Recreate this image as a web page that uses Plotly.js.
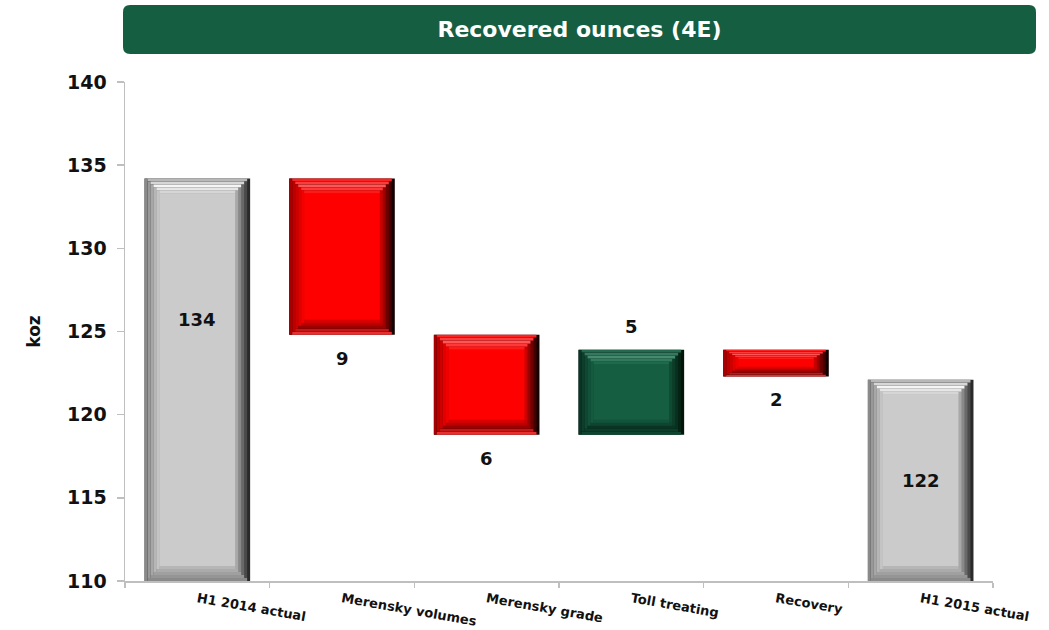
<!DOCTYPE html>
<html><head><meta charset="utf-8">
<script src="https://cdn.plot.ly/plotly-3.0.1.min.js"></script>
<style>html,body{margin:0;padding:0;background:#fff;} #chart{width:1049px;height:630px;}</style>
</head><body><div id="chart"></div>
<script>
// ---- data ----
const categories = ["H1 2014 actual", "Merensky volumes", "Merensky grade", "Toll treating", "Recovery", "H1 2015 actual"];
const startValue = 134.2;
const deltas = [-9.4, -6.0, 5.1, -1.6];
const endValue = 122.1;
const valueLabels = ["134", "9", "6", "5", "2", "122"];
const yTicks = [110, 115, 120, 125, 130, 135, 140];

(function () {
// ---- styles (bevel colour stops: outer -> inner) ----
const PAL = {
  total: {face: "#CBCBCB",
    left: ["#8A8A8A", "#C4C4C4"], top: ["#B8B8B8", "#F5F5F5", "#D6D6D6"],
    right: ["#2A2A2A", "#A8A8A8"], bottom: ["#8A8A8A", "#B6B6B6"]},
  down: {face: "#FF0000",
    left: ["#A80000", "#F20000"], top: ["#FF2020", "#FF5555", "#FF1A1A"],
    right: ["#150000", "#C80000"], bottom: ["#E83030", "#9A0000", "#D80000"]},
  up: {face: "#165E42",
    left: ["#0A3526", "#155A40"], top: ["#24684E", "#438A6F", "#1E6A4D"],
    right: ["#021509", "#0F4A33"], bottom: ["#0E4530", "#093424", "#12543B"]}
};
const GREEN = "#165E42";
const FONT = "DejaVu Sans";
const totalLabelFrac = [0.65, 0.5];
const BAR_W = 0.73, RING_PX = 3, RINGS = 5;

function hex2rgb(h) { return [1, 3, 5].map(j => parseInt(h.substr(j, 2), 16)); }
function stopColor(stops, t) {
  const n = stops.length - 1, p = t * n, j = Math.min(Math.floor(p), n - 1), f = p - j;
  const a = hex2rgb(stops[j]), b = hex2rgb(stops[j + 1]);
  return "rgb(" + a.map((v, q) => Math.round(v + (b[q] - v) * f)).join(",") + ")";
}

const W = 1049, H = 630, ml = 125, mr = 56, mt = 82, mb = 49;
const pw = W - ml - mr, ph = H - mt - mb;
const yMin = yTicks[0], yMax = yTicks[yTicks.length - 1];

// ---- waterfall geometry from data ----
const bases = [], heights = [], kinds = [];
bases.push(yMin); heights.push(startValue - yMin); kinds.push("total");
let running = startValue;
deltas.forEach(d => {
  bases.push(Math.min(running, running + d)); heights.push(Math.abs(d));
  kinds.push(d < 0 ? "down" : "up");
  running += d;
});
bases.push(yMin); heights.push(endValue - yMin); kinds.push("total");

// ---- bevelled bars built from overlaid bar layers ----
const unitPx = ph / (yMax - yMin);
const catPx = pw / categories.length;
const sx = RING_PX / catPx;
const sy = heights.map(h => Math.min(RING_PX / unitPx, h * 0.36 / RINGS));
const L = -BAR_W / 2, R = BAR_W / 2;
const traces = [];
function layer(x0, x1, y0Fn, y1Fn, colFn) {
  traces.push({
    type: "bar", x: categories, hoverinfo: "skip", showlegend: false,
    offset: x0, width: x1 - x0,
    base: heights.map((h, i) => y0Fn(i)),
    y: heights.map((h, i) => y1Fn(i) - y0Fn(i)),
    marker: {color: kinds.map(k => colFn(k)), line: {width: 0}}
  });
}
const barTop = i => bases[i] + heights[i], barBot = i => bases[i];
for (let k = 0; k < RINGS; k++) {
  const t = RINGS > 1 ? k / (RINGS - 1) : 0;
  layer(L + k * sx, R - k * sx, i => barBot(i) + k * sy[i], i => barTop(i) - k * sy[i], kd => stopColor(PAL[kd].right, t));
  layer(L + k * sx, L + (k + 1) * sx, i => barBot(i) + k * sy[i], i => barTop(i) - k * sy[i], kd => stopColor(PAL[kd].left, t));
  layer(L + (k + 1) * sx, R - (k + 1) * sx, i => barTop(i) - (k + 1) * sy[i], i => barTop(i) - k * sy[i], kd => stopColor(PAL[kd].top, t));
  layer(L + (k + 1) * sx, R - (k + 1) * sx, i => barBot(i) + k * sy[i], i => barBot(i) + (k + 1) * sy[i], kd => stopColor(PAL[kd].bottom, t));
}
layer(L + RINGS * sx, R - RINGS * sx, i => barBot(i) + RINGS * sy[i], i => barTop(i) - RINGS * sy[i], kd => PAL[kd].face);

// ---- value labels ----
const labelFont = {family: FONT, size: 18, color: "#111", weight: "bold"};
const annotations = [];
annotations.push({x: categories[0], y: yMin + (startValue - yMin) * totalLabelFrac[0], text: "<b>" + valueLabels[0] + "</b>", showarrow: false, font: labelFont, yanchor: "middle"});
running = startValue;
deltas.forEach((d, i) => {
  const next = running + d;
  annotations.push({x: categories[i + 1], y: next, text: "<b>" + valueLabels[i + 1] + "</b>", showarrow: false, font: labelFont,
    yanchor: d < 0 ? "top" : "bottom", yshift: d < 0 ? -11 : 11});
  running = next;
});
annotations.push({x: categories[5], y: yMin + (endValue - yMin) * totalLabelFrac[1], text: "<b>" + valueLabels[5] + "</b>", showarrow: false, font: labelFont, yanchor: "middle"});

// ---- title box (rounded rect in paper coords) ----
function px2x(px) { return (px - ml) / pw; }
function py2y(py) { return (H - mb - py) / ph; }
const bx0 = 123, bx1 = 1036, by0 = 5, by1 = 54, r = 7;
const path = `M ${px2x(bx0 + r)},${py2y(by0)} L ${px2x(bx1 - r)},${py2y(by0)} Q ${px2x(bx1)},${py2y(by0)} ${px2x(bx1)},${py2y(by0 + r)} ` +
  `L ${px2x(bx1)},${py2y(by1 - r)} Q ${px2x(bx1)},${py2y(by1)} ${px2x(bx1 - r)},${py2y(by1)} ` +
  `L ${px2x(bx0 + r)},${py2y(by1)} Q ${px2x(bx0)},${py2y(by1)} ${px2x(bx0)},${py2y(by1 - r)} ` +
  `L ${px2x(bx0)},${py2y(by0 + r)} Q ${px2x(bx0)},${py2y(by0)} ${px2x(bx0 + r)},${py2y(by0)} Z`;

const layout = {
  width: W, height: H,
  margin: {l: ml, r: mr, t: mt, b: mb},
  paper_bgcolor: "#fff", plot_bgcolor: "#fff",
  font: {family: FONT, color: "#111"},
  barmode: "overlay",
  title: {
    text: "<b>Recovered ounces (4E)</b>",
    font: {family: FONT, size: 22, color: "#ffffff"},
    x: ((bx0 + bx1) / 2) / W, xanchor: "center", xref: "container",
    y: 1 - ((by0 + by1) / 2) / H, yanchor: "middle", yref: "container"
  },
  xaxis: {
    type: "category",
    range: [-0.5, 5.5],
    showline: true, linecolor: "#BFBFBF", linewidth: 1.5,
    ticks: "outside", tickson: "boundaries", ticklen: 5, tickcolor: "#BFBFBF", tickwidth: 1.5,
    tickangle: 10, ticklabelstandoff: 4,
    tickfont: {family: FONT, size: 13, color: "#111", weight: "bold"},
    showgrid: false, zeroline: false, fixedrange: true
  },
  yaxis: {
    range: [yMin, yMax],
    tickvals: yTicks,
    showline: true, linecolor: "#BFBFBF", linewidth: 1.5,
    ticks: "outside", ticklen: 7, tickcolor: "#BFBFBF", tickwidth: 1.5,
    ticklabelstandoff: 6,
    tickfont: {family: FONT, size: 19, color: "#111", weight: "bold"},
    showgrid: false, zeroline: false, fixedrange: true,
    title: {text: "<b>koz</b>", font: {family: FONT, size: 17, color: "#111"}, standoff: 22}
  },
  shapes: [{type: "path", xref: "paper", yref: "paper", path: path, fillcolor: GREEN, line: {width: 0}, layer: "below"}],
  annotations: annotations
};

Plotly.newPlot("chart", traces, layout, {displayModeBar: false, staticPlot: true});
})();
</script>
</body></html>
